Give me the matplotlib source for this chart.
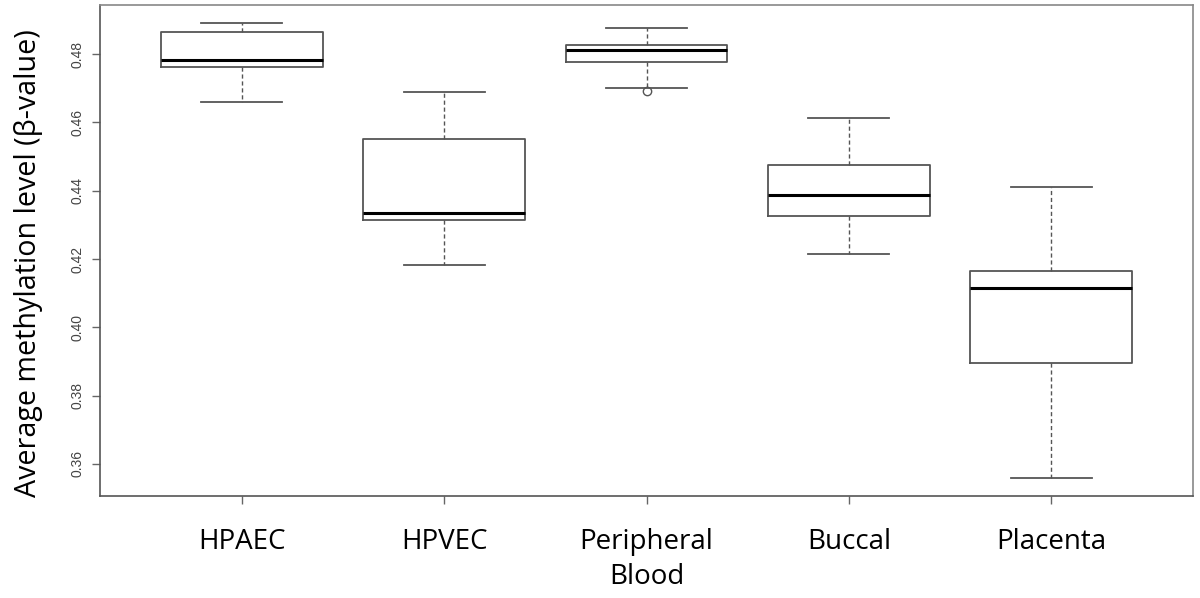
import matplotlib
matplotlib.use("Agg")
from matplotlib import pyplot as plt

# values (beta values)
groups = ["HPAEC", "HPVEC", "Peripheral\nBlood", "Buccal", "Placenta"]
whislo = [0.4659, 0.4182, 0.4702, 0.4214, 0.3559]
q1 = [0.4763, 0.4314, 0.4776, 0.4326, 0.3895]
med = [0.4782, 0.4334, 0.4812, 0.4387, 0.4115]
q3 = [0.4864, 0.4551, 0.4828, 0.4475, 0.4165]
whishi = [0.4890, 0.4689, 0.4877, 0.4613, 0.4411]
outliers = [[], [], [0.4693], [], []]
yticks = [0.36, 0.38, 0.40, 0.42, 0.44, 0.46, 0.48]

stats = []
for i in range(len(groups)):
    stats.append(dict(whislo=whislo[i], q1=q1[i], med=med[i], q3=q3[i],
                      whishi=whishi[i], fliers=outliers[i], label=groups[i]))

fig = plt.figure(figsize=(12, 5.98), dpi=100)
ax = fig.add_axes([100 / 1200, 1 - 496 / 598, 1093 / 1200, 491 / 598])

gray = "#555555"
ax.bxp(stats, positions=range(1, len(groups) + 1), widths=0.8,
       boxprops=dict(color=gray, linewidth=1.3),
       medianprops=dict(color="black", linewidth=2.2),
       whiskerprops=dict(color=gray, linewidth=1.0, linestyle=(0, (3, 2))),
       capprops=dict(color=gray, linewidth=1.3),
       flierprops=dict(marker="o", markersize=6, markerfacecolor="none",
                       markeredgecolor=gray, markeredgewidth=1.0),
       capwidths=0.4)

ax.set_xlim(0.3, 5.7)
ax.set_ylim(0.3506, 0.4944)
ax.set_yticks(yticks)
ax.set_yticklabels(["%.2f" % v for v in yticks], rotation=90, va="center",
                   fontsize=10, color="#444444", family="Liberation Sans")
ax.set_xticks(range(1, len(groups) + 1))
ax.set_xticklabels(groups, fontsize=20, family="Open Sans", linespacing=1.35)
ax.tick_params(axis="y", length=6, width=1, color="#666666", pad=5)
ax.tick_params(axis="x", length=6, width=1, color="#666666", pad=17)

for s in ax.spines.values():
    s.set_color("#888888")
    s.set_linewidth(1.2)
ax.spines["left"].set_color("#555555")
ax.spines["bottom"].set_color("#555555")

ax.set_ylabel("Average methylation level (\u03b2-value)", fontsize=20.6,
              family="Open Sans")
ax.yaxis.set_label_coords(-0.052, 0.4745)

fig.savefig("out.png", dpi=100)
